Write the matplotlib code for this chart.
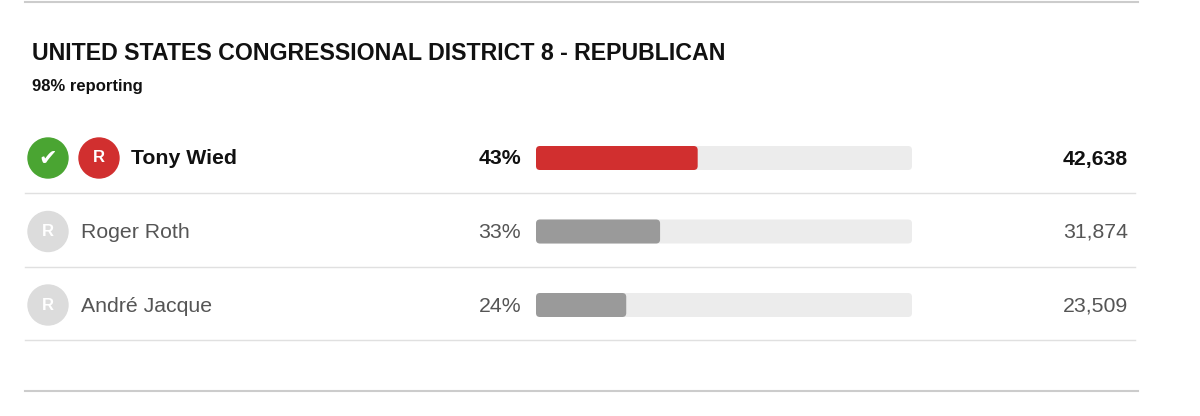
import matplotlib
matplotlib.use("Agg")
import matplotlib.pyplot as plt
from matplotlib.patches import FancyBboxPatch, Circle

title = "UNITED STATES CONGRESSIONAL DISTRICT 8 - REPUBLICAN"
subtitle = "98% reporting"
names = ["Tony Wied", "Roger Roth", "André Jacque"]
pcts = [43, 33, 24]
votes = [42638, 31874, 23509]
winner = [True, False, False]

plt.rcParams['font.family'] = ['Liberation Sans', 'DejaVu Sans']
fig = plt.figure(figsize=(12, 4.16), dpi=100)
ax = fig.add_axes([0, 0, 1, 1])
ax.set_xlim(0, 1200); ax.set_ylim(416, 0); ax.axis('off')

ax.plot([25, 1138], [2, 2], color='#cccccc', lw=1.5)
ax.plot([25, 1138], [391, 391], color='#cccccc', lw=1.5)
ax.text(32, 54, title, fontsize=16.7, fontweight='bold', va='center', color='#111')
ax.text(32, 86, subtitle, fontsize=12, fontweight='bold', va='center', color='#111')

x0, track = 536, 376
for i, (n, p, v, w) in enumerate(zip(names, pcts, votes, winner)):
    y = 158 + i * 73.5
    if w:
        ax.add_patch(Circle((48, y), 20, color='#4aa532'))
        ax.text(48, y + 1, "✔", color='white', fontsize=16, ha='center', va='center', family='DejaVu Sans')
        cx, col, nx = 99, '#d12f2f', 131
    else:
        cx, col, nx = 48, '#dcdcdc', 81
    ax.add_patch(Circle((cx, y), 20, color=col))
    ax.text(cx, y, "R", color='white', fontsize=12, fontweight='bold', ha='center', va='center')
    tc = '#111' if w else '#555'
    fw = 'bold' if w else 'normal'
    ax.text(nx, y + 1, n, fontsize=15.3, fontweight=fw, va='center', color=tc)
    ax.text(521, y + 1, f"{p}%", fontsize=15.3, fontweight=fw, va='center', ha='right', color=tc)
    ax.text(1128, y + 1, f"{v:,}", fontsize=15.3, fontweight=fw, va='center', ha='right', color=tc)
    ax.add_patch(FancyBboxPatch((x0 + 4, y - 8), track - 8, 16, boxstyle="round,pad=4",
                                fc='#ececec', ec='none'))
    bw = p / 100 * track
    ax.add_patch(FancyBboxPatch((x0 + 4, y - 8), bw - 8, 16, boxstyle="round,pad=4",
                                fc='#d12f2f' if w else '#9a9a9a', ec='none'))
    ax.plot([25, 1135], [y + 35, y + 35], color='#e0e0e0', lw=1)

fig.savefig("out.png", dpi=100)
